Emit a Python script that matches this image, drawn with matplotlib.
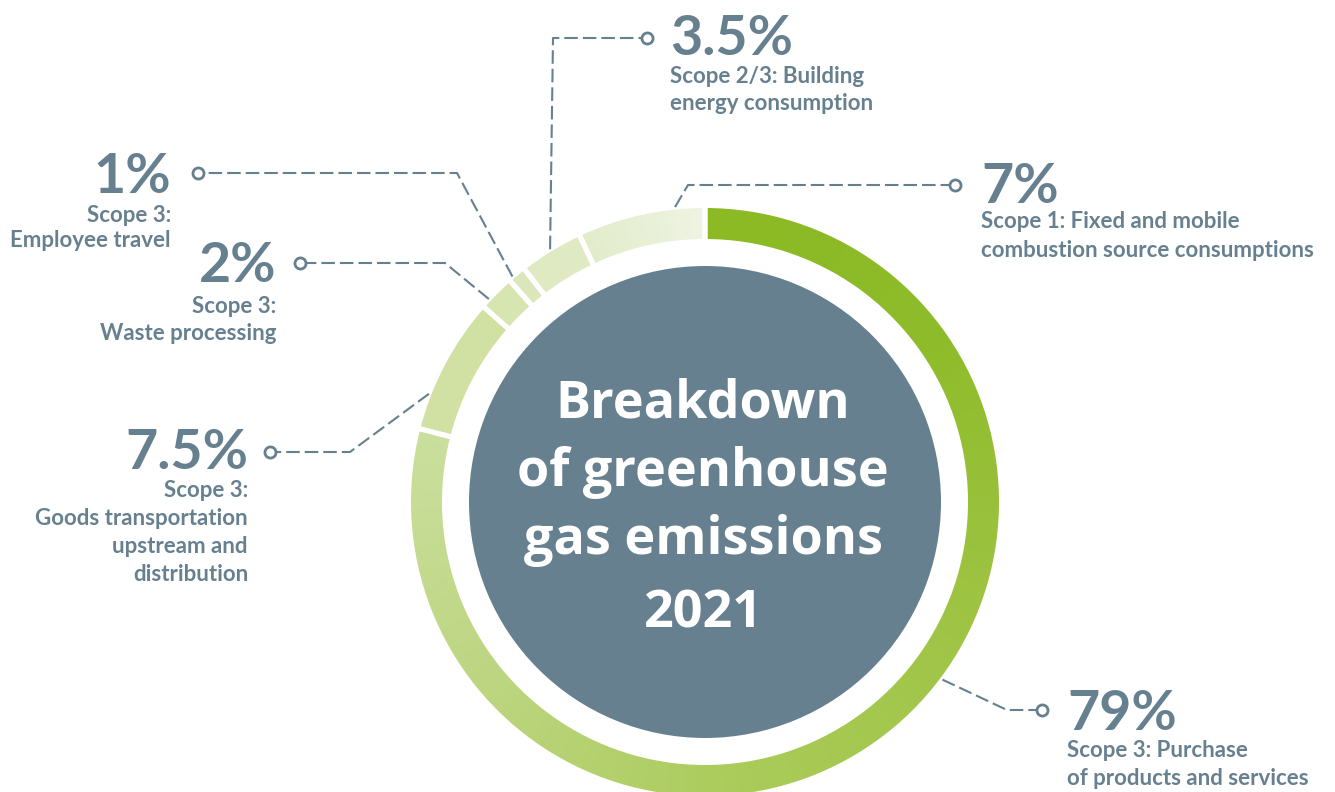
import numpy as np
import matplotlib
matplotlib.use("Agg")
import matplotlib.pyplot as plt
from matplotlib.colors import LinearSegmentedColormap
from matplotlib.patches import Circle, Wedge

# ---------------- data ----------------
categories = [
    "Scope 3: Purchase of products and services",
    "Scope 3: Goods transportation upstream and distribution",
    "Scope 3: Waste processing",
    "Scope 3: Employee travel",
    "Scope 2/3: Building energy consumption",
    "Scope 1: Fixed and mobile combustion source consumptions",
]
shares = [79, 7.5, 2, 1, 3.5, 7]
pct_labels = ["79%", "7.5%", "2%", "1%", "3.5%", "7%"]
desc_lines = [
    ["Scope 3: Purchase", "of products and services"],
    ["Scope 3:", "Goods transportation", "upstream and", "distribution"],
    ["Scope 3:", "Waste processing"],
    ["Scope 3:", "Employee travel"],
    ["Scope 2/3: Building", "energy consumption"],
    ["Scope 1: Fixed and mobile", "combustion source consumptions"],
]
title_lines = ["Breakdown", "of greenhouse", "gas emissions", "2021"]

# ---------------- style / layout ----------------
W, H = 1335, 792
SLATE = "#67808f"
seg_colors = [
    ["#8bba24", "#8fbc2b", "#9fc444", "#aacb59", "#bcd57f", "#cbdf9e"],
    ["#d1e1a3", "#d1e1a3"],
    ["#d7e5b1", "#d7e5b1"],
    ["#dbe7ba", "#dbe7ba"],
    ["#dfeac3", "#e0ebc5"],
    ["#e2ecca", "#eff4e3"],
]
CX, CY = 705, H - 502          # ring centre (y measured upward)
R_OUT, RING_W = 296.5, 36
R_INNER = 236

# label layout in image-pixel coordinates (y downward)
anchor_deg = [-36.8, 158.6, 136.8, 130.5, 121.5, 95.8]
elbows = [(1007, 710), (350, 452), (445, 263), (457, 173), (553, 38), (688, 185)]
markers = [(1042, 710), (270, 452), (300, 263), (198, 173), (647, 38), (955, 185)]
text_x = [1067, 248, 276, 171, 670, 981]
text_ha = ["left", "right", "right", "right", "left", "left"]
pct_base = [730, 469, 282, 193, 55, 203]
desc_base = [757, 497, 313, 222, 83, 228]
desc_step = [28, 28, 27, 25, 27, 29]

plt.rcParams["font.family"] = ["Lato", "DejaVu Sans"]

fig = plt.figure(figsize=(W / 100, H / 100), dpi=100)
ax = fig.add_axes([0, 0, 1, 1])

wedges, _ = ax.pie(
    shares, startangle=90, counterclock=False, center=(CX, CY), radius=R_OUT,
    wedgeprops=dict(width=RING_W, facecolor="none", edgecolor="none"),
)
ax.set_xlim(0, W)
ax.set_ylim(0, H)
ax.set_aspect("auto")
ax.axis("off")

# angular gradients clipped to each wedge
n = 800
ext = [CX - R_OUT, CX + R_OUT, CY - R_OUT, CY + R_OUT]
xs = np.linspace(ext[0], ext[1], n)
ys = np.linspace(ext[2], ext[3], n)
X, Y = np.meshgrid(xs, ys)
cw = (90 - np.degrees(np.arctan2(Y - CY, X - CX))) % 360
start = 0.0
for w, share, cols in zip(wedges, shares, seg_colors):
    span = share / sum(shares) * 360
    t = np.clip((cw - start) / span, 0, 1)
    cmap = LinearSegmentedColormap.from_list("g", cols)
    img = ax.imshow(cmap(t), extent=ext, origin="lower", zorder=2,
                    interpolation="bilinear")
    img.set_clip_path(w)
    ax.add_patch(Wedge(w.center, w.r, w.theta1, w.theta2, width=w.width,
                       fill=False, edgecolor="white", linewidth=3.6, zorder=3))
    start += span

ax.set_xlim(0, W)
ax.set_ylim(0, H)

# inner disc and title
ax.add_patch(Circle((CX, CY), R_INNER, facecolor=SLATE, edgecolor="none", zorder=4))
title_base = [418, 486, 554, 627]
for line, b in zip(title_lines, title_base):
    ax.text(703, H - b, line, ha="center", va="baseline", color="white",
            fontsize=37.5, fontweight="bold", family=["Open Sans", "DejaVu Sans"],
            zorder=5)

# leader lines, markers and labels
for i in range(len(shares)):
    a = np.radians(anchor_deg[i])
    ax_pt = (CX + R_OUT * np.cos(a), CY + R_OUT * np.sin(a))
    ex, ey = elbows[i]
    mx, my = markers[i]
    ax.plot([ax_pt[0], ex, mx], [ax_pt[1], H - ey, H - my], color=SLATE,
            lw=1.5, dashes=(6.5, 2.4), zorder=6, solid_capstyle="butt")
    ax.plot(mx, H - my, "o", ms=8, mfc="white", mec=SLATE, mew=2, zorder=7)
    ax.text(text_x[i], H - pct_base[i], pct_labels[i], ha=text_ha[i],
            va="baseline", color=SLATE, fontsize=40, fontweight="bold")
    for j, line in enumerate(desc_lines[i]):
        ax.text(text_x[i], H - (desc_base[i] + j * desc_step[i]), line,
                ha=text_ha[i], va="baseline", color=SLATE, fontsize=16,
                fontweight="bold")

fig.savefig("out.png", dpi=100, facecolor="white")
